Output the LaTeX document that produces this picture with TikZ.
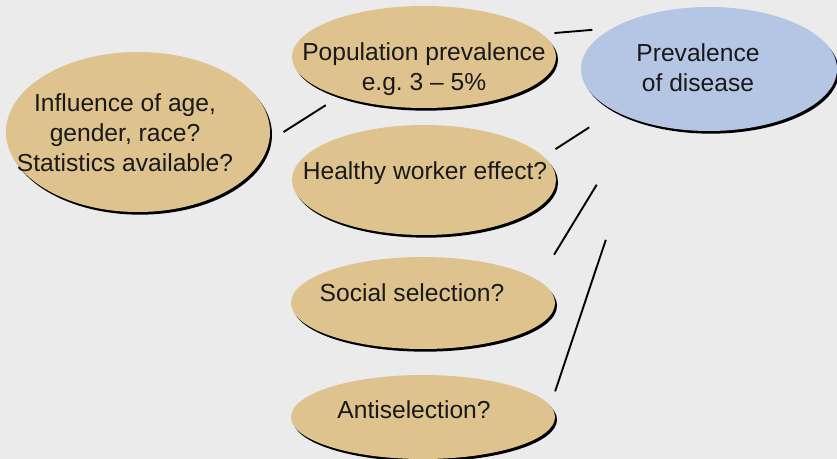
\documentclass[tikz,border=0pt]{standalone}
\usepackage{fontspec}
\setmainfont{Liberation Sans}
\usetikzlibrary{shapes.geometric,shadows}

\definecolor{sand}{RGB}{223,195,143}
\definecolor{sky}{RGB}{180,198,228}
\definecolor{paper}{RGB}{235,235,235}

\tikzset{
  bubble/.style={ellipse,fill=sand,inner sep=0pt,outer sep=0pt,
    drop shadow={shadow xshift=0.06cm,shadow yshift=-0.08cm,fill=black,opacity=1}},
  txt/.style={font=\fontsize{21}{25.5}\selectfont,text=black!90,align=center,inner sep=0pt},
  link/.style={line width=1.6pt}
}

\begin{document}
\begin{tikzpicture}[x=0.03cm,y=-0.03cm]
% Background
\fill[paper] (0,0) rectangle (837,459);
\useasboundingbox (0,0) rectangle (837,459);

% Ellipses
\node[bubble,fill=sky,minimum width=7.68cm,minimum height=3.72cm] (prev) at (709,69) {};
\node[bubble,minimum width=7.92cm,minimum height=3.06cm] (pop) at (424,57) {};
\node[bubble,minimum width=7.92cm,minimum height=4.8cm] (infl) at (138,132) {};
\node[bubble,minimum width=7.92cm,minimum height=3.3cm] (hwe) at (424,180) {};
\node[bubble,minimum width=7.92cm,minimum height=2.76cm] (soc) at (423,303) {};
\node[bubble,minimum width=7.92cm,minimum height=2.52cm] (anti) at (423,417) {};

% Texts
\node[txt] (prev-t) at (698,68) {Prevalence\\of disease};
\node[txt] (pop-t) at (424,69) {Population prevalence\\e.g.\ 3 -- 5\%};
\node[txt] (infl-t) at (125,133) {Influence of age,\\gender, race?\\Statistics available?};
\node[txt,anchor=base] (hwe-t) at (425,180) {Healthy worker effect?};
\node[txt,anchor=base] (soc-t) at (412,302) {Social selection?};
\node[txt,anchor=base] (anti-t) at (414,418) {Antiselection?};

% Links
\draw[link,shorten <=0.378cm,shorten >=0.612cm] (pop.11.7) -- (prev.157);
\draw[link,shorten <=0.513cm,shorten >=0.498cm] (infl.-4.7) -- (pop.-155.9);
\draw[link,shorten <=0.423cm,shorten >=0.912cm] (hwe.11.9) -- (prev.204.8);
\draw[link,shorten <=0.909cm,shorten >=2.274cm] (soc.11.6) -- (prev.215.9);
\draw[link,shorten <=0.459cm,shorten >=3.705cm] (anti.5.7) -- (prev.220.1);
\end{tikzpicture}
\end{document}
